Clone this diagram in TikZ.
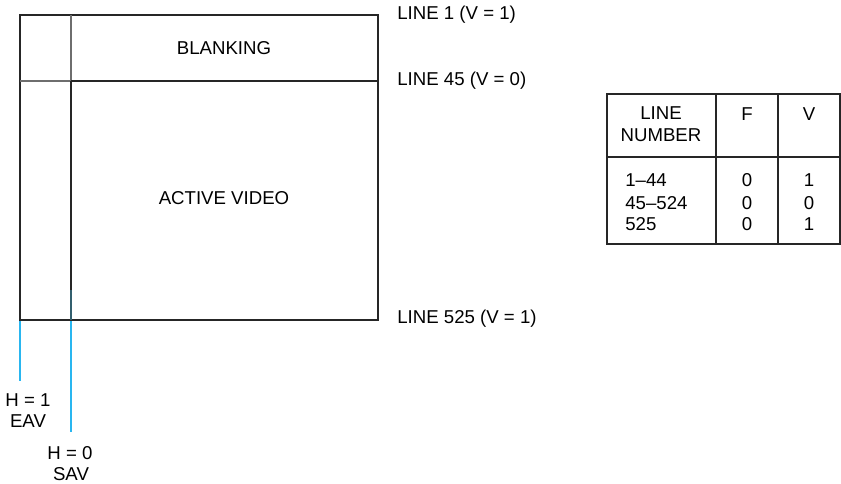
\documentclass[tikz,border=0pt]{standalone}
\usepackage{fontspec}
\setmainfont{Liberation Sans}
\usetikzlibrary{calc}
\definecolor{cus-cyan}{RGB}{41, 182, 240}
\definecolor{cus-teal}{RGB}{50, 95, 110}
\definecolor{cus-gray}{RGB}{110, 110, 110}

\begin{document}
\begin{tikzpicture}[x=0.02cm,y=-0.02cm,
  lbl/.style={inner sep=0pt,font=\fontsize{10.6}{12.5}\selectfont},
  frame/.style={line width=0.7pt,black!85},
  heavy/.style={line width=1.1pt,black!85}]
\useasboundingbox (0,0) rectangle (841,483);

% picture frame
\coordinate (tl) at (20,15);
\coordinate (tr) at (378,15);
\coordinate (bl) at (20,320);
\coordinate (br) at (378,320);
\coordinate (sav) at (71,15);
\coordinate (act) at (71,81);
\coordinate (actr) at (378,81);
\coordinate (blk) at (20,81);

\draw [cus-cyan,line width=0.7pt] (20,290) -- (20,381) coordinate (eavend);
\draw [cus-cyan,line width=0.9pt] (71,320) -- (71,432) coordinate (savend);
\draw [frame] (tl) -- (tr) -- (br) -- (bl) -- cycle;
\draw [cus-gray,line width=0.6pt] (blk) -- (act);
\draw [cus-gray,line width=0.6pt] (sav) -- (act);
\draw [heavy] (act) -- (actr);
\draw [heavy] (act) -- (71,290) coordinate (tealtop);
\draw [cus-teal,line width=1.1pt] (tealtop) -- (71,320);

\node [lbl] (blanking) at (224,48) {BLANKING};
\node [lbl] (active) at (224,198) {ACTIVE VIDEO};

\node [lbl,anchor=west] (line1) at (397,15) {LINE 1 (V = 1)};
\node [lbl,anchor=west] (line45) at (397,81) {LINE 45 (V = 0)};
\node [lbl,anchor=west] (line525) at (397,319) {LINE 525 (V = 1)};

\node [lbl] (h1) at (28,400) {H = 1};
\node [lbl] (eav) at (28,421) {EAV};
\node [lbl] (h0) at (70,453) {H = 0};
\node [lbl] (savlbl) at (71,474) {SAV};

% table
\draw [frame] (607,94) rectangle (840,244);
\draw [frame] (716,94) -- (716,244);
\draw [frame] (778,94) -- (778,244);
\draw [frame] (607,157) -- (840,157);

\node [lbl,align=center] (linenum) at (661,124) {LINE\\NUMBER};
\node [lbl] (fhead) at (747,114) {F};
\node [lbl] (vhead) at (809,114) {V};

\node [lbl,anchor=west] (r1) at (625,180) {1--44};
\node [lbl,anchor=west] (r2) at (625,203) {45--524};
\node [lbl,anchor=west] (r3) at (625,224) {525};
\node [lbl] (f1) at (747,180) {0};
\node [lbl] (f2) at (747,203) {0};
\node [lbl] (f3) at (747,224) {0};
\node [lbl] (v1) at (809,180) {1};
\node [lbl] (v2) at (809,203) {0};
\node [lbl] (v3) at (809,224) {1};
\end{tikzpicture}
\end{document}
